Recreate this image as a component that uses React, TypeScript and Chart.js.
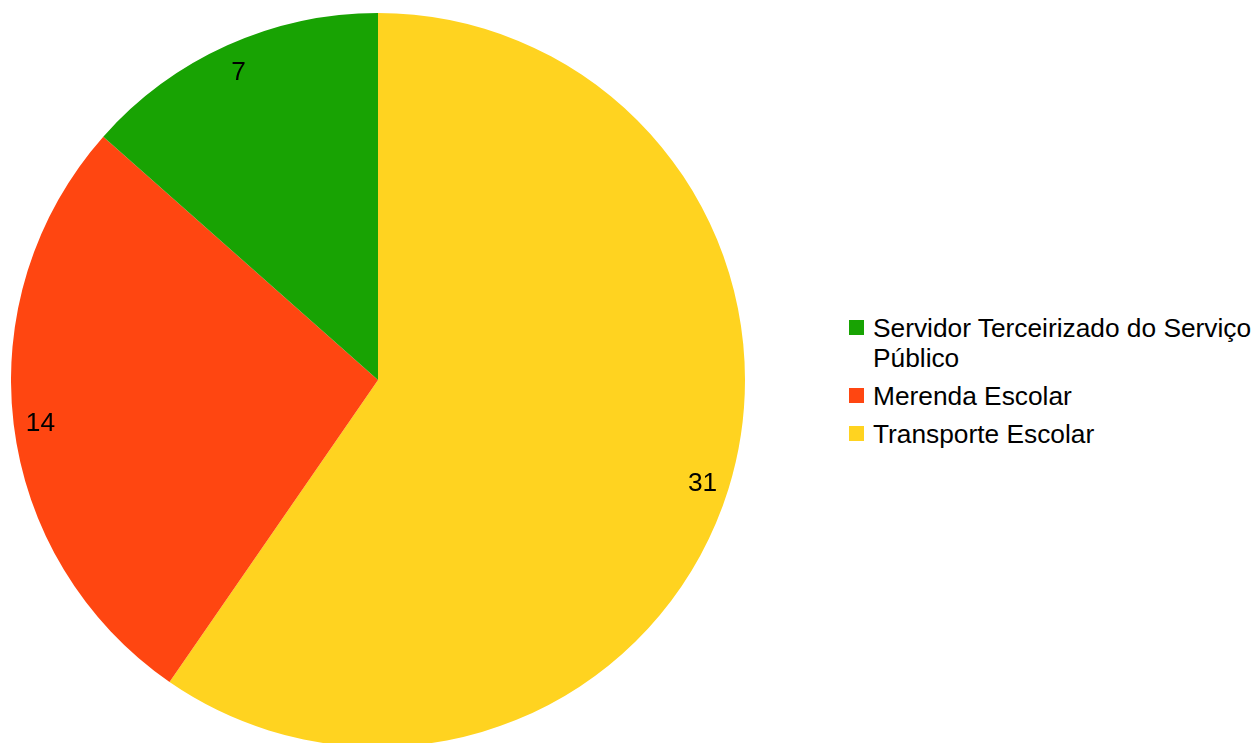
import React, { useEffect, useRef } from "react";
import { Chart, registerables } from "chart.js";

Chart.register(...registerables);

const categories = ["Transporte Escolar", "Merenda Escolar", "Servidor Terceirizado do Serviço Público"];
const values = [31, 14, 7];
const colors = ["#ffd320", "#ff4611", "#18a303"];
// legend shows items in reverse order, with explicit line breaks
const legendLines: string[][] = [
  ["Servidor Terceirizado do Serviço", "Público"],
  ["Merenda Escolar"],
  ["Transporte Escolar"],
];
const legendColors = ["#18a303", "#ff4611", "#ffd320"];

const FONT = '"Liberation Sans", Arial, sans-serif';

const labelPlugin = {
  id: "sliceLabels",
  afterDatasetsDraw(chart: any) {
    const ctx = chart.ctx;
    const meta = chart.getDatasetMeta(0);
    ctx.save();
    ctx.font = `26.3px ${FONT}`;
    ctx.fillStyle = "#000000";
    ctx.textAlign = "center";
    ctx.textBaseline = "middle";
    meta.data.forEach((arc: any, i: number) => {
      const p = arc.getProps(["x", "y", "startAngle", "endAngle", "outerRadius"], true);
      const mid = (p.startAngle + p.endAngle) / 2;
      const r = p.outerRadius - 27;
      ctx.fillText(String(values[i]), p.x + Math.cos(mid) * r, p.y + Math.sin(mid) * r + 3);
    });
    ctx.restore();
  },
};

export default function App() {
  const ref = useRef<HTMLCanvasElement>(null);
  useEffect(() => {
    if (!ref.current) return;
    const chart = new Chart(ref.current, {
      type: "pie",
      data: {
        labels: categories,
        datasets: [
          {
            data: values,
            backgroundColor: colors,
            borderWidth: 0,
            hoverOffset: 0,
          },
        ],
      },
      options: {
        animation: false,
        responsive: false,
        events: [],
        layout: { padding: 0 },
        plugins: {
          legend: { display: false },
          tooltip: { enabled: false },
        },
      },
      plugins: [labelPlugin],
    });
    return () => chart.destroy();
  }, []);

  return (
    <div
      style={{
        position: "fixed",
        left: 0,
        top: 0,
        width: 1256,
        height: 743,
        overflow: "hidden",
        background: "#ffffff",
        fontFamily: FONT,
      }}
    >
      <canvas
        ref={ref}
        width={734}
        height={734}
        style={{ position: "absolute", left: 11, top: 13, width: 734, height: 734 }}
      />
      <div style={{ position: "absolute", left: 849, top: 313, display: "flex", flexDirection: "column", gap: 8 }}>
        {legendLines.map((lines, i) => (
          <div key={i} style={{ position: "relative", paddingLeft: 24, fontSize: 26.3, lineHeight: "30px", color: "#000", whiteSpace: "nowrap" }}>
            <span
              style={{
                position: "absolute",
                left: 0,
                top: 7,
                width: 15,
                height: 15,
                background: legendColors[i],
              }}
            />
            {lines.map((l, j) => (
              <div key={j}>{l}</div>
            ))}
          </div>
        ))}
      </div>
    </div>
  );
}
